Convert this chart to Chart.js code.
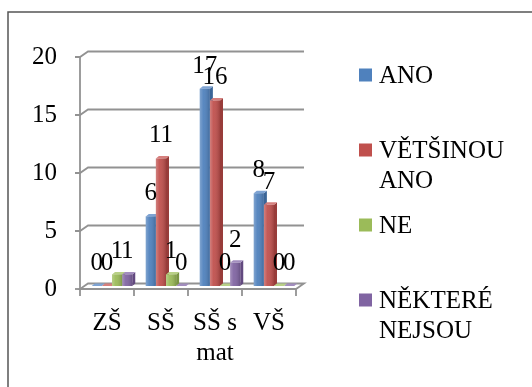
<!DOCTYPE html>
<html>
<head>
<meta charset="utf-8">
<script src="https://cdn.jsdelivr.net/npm/chart.js@4"></script>
<style>
    body { margin: 0; background: #fff; }
    #wrap { width: 532px; height: 387px; }
</style>
</head>
<body>
<div id="wrap"><canvas id="chart" width="532" height="387"></canvas></div>
<script>
// DATA
const categories = ["ZŠ", "SŠ", ["SŠ s", "mat"], "VŠ"];
const seriesNames = ["ANO", "VĚTŠINOU ANO", "NE", "NĚKTERÉ NEJSOU"];
const ano = [0, 6, 17, 8];
const vetsinouAno = [0, 11, 16, 7];
const ne = [1, 1, 0, 0];
const nektereNejsou = [1, 0, 2, 0];
const yTicks = [0, 5, 10, 15, 20];

const colors = ["#4F81BD", "#C0504D", "#9BBB59", "#8064A2"];
const topColors = ["#7EA3D3", "#D67F7D", "#B8D086", "#A28DBE"];
const sideColors = ["#3A6597", "#983C3A", "#7A9443", "#62497F"];

const FONT = "'Liberation Serif', 'Times New Roman', serif";
const font = { family: FONT, size: 25 };

// 3D offsets (front / back wall relative to bar plane)
const FX = -5, FY = 3, BX = 3, BY = -2.5;
const DX = 3, DY = -2.5; // bar depth

// GRID, FLOOR, AXIS, FRAME
const frame3d = {
    id: "frame3d",
    beforeDatasetsDraw(chart) {
        const ctx = chart.ctx;
        const area = chart.chartArea;
        const y = chart.scales.y;
        ctx.save();

        // outer frame
        ctx.strokeStyle = "#555";
        ctx.lineWidth = 1.5;
        ctx.beginPath();
        ctx.moveTo(8, 390);
        ctx.lineTo(8, 12);
        ctx.lineTo(540, 12);
        ctx.stroke();

        ctx.strokeStyle = "#929292";
        ctx.lineWidth = 1.8;

        // floor
        const y0 = y.getPixelForValue(0);
        ctx.beginPath();
        ctx.moveTo(area.left + FX, y0 + FY);
        ctx.lineTo(area.right + FX, y0 + FY);
        ctx.lineTo(area.right + BX, y0 + BY);
        ctx.lineTo(area.left + BX, y0 + BY);
        ctx.closePath();
        ctx.stroke();

        yTicks.forEach(v => {
            const py = y.getPixelForValue(v);
            ctx.beginPath();
            ctx.moveTo(area.left + FX - 5, py + FY);
            ctx.lineTo(area.left + FX, py + FY);
            if (v > 0) {
                ctx.lineTo(area.left + BX, py + BY);
                ctx.lineTo(area.right + BX, py + BY);
            }
            ctx.stroke();
        });

        // front vertical axis
        const yTop = y.getPixelForValue(yTicks[yTicks.length - 1]);
        ctx.beginPath();
        ctx.moveTo(area.left + FX, yTop + FY);
        ctx.lineTo(area.left + FX, y0 + FY);
        ctx.stroke();

        // category tick marks
        const step = (area.right - area.left) / categories.length;
        for (let i = 0; i <= categories.length; i++) {
            const px = area.left + FX + i * step;
            ctx.beginPath();
            ctx.moveTo(px, y0 + FY);
            ctx.lineTo(px, y0 + FY + 7);
            ctx.stroke();
        }

        // bar tops and sides (drawn before fronts so fronts cover them)
        chart.data.datasets.forEach((ds, di) => {
            const meta = chart.getDatasetMeta(di);
            meta.data.forEach(bar => {
                const x0 = bar.x - bar.width / 2;
                const x1 = bar.x + bar.width / 2;
                const top = bar.y;
                const base = bar.base;
                ctx.fillStyle = sideColors[di];
                ctx.beginPath();
                ctx.moveTo(x1, top);
                ctx.lineTo(x1 + DX, top + DY);
                ctx.lineTo(x1 + DX, base + DY);
                ctx.lineTo(x1, base);
                ctx.closePath();
                ctx.fill();
                ctx.fillStyle = topColors[di];
                ctx.beginPath();
                ctx.moveTo(x0, top);
                ctx.lineTo(x1, top);
                ctx.lineTo(x1 + DX, top + DY);
                ctx.lineTo(x0 + DX, top + DY);
                ctx.closePath();
                ctx.fill();
            });
        });

        ctx.restore();
    },
    afterDatasetsDraw(chart) {
        const ctx = chart.ctx;
        ctx.save();
        chart.data.datasets.forEach((ds, di) => {
            const meta = chart.getDatasetMeta(di);
            meta.data.forEach((bar, i) => {
                const x0 = bar.x - bar.width / 2;
                const x1 = bar.x + bar.width / 2;
                if (bar.base - bar.y > 0.5) {
                    const g = ctx.createLinearGradient(x0, 0, x1, 0);
                    g.addColorStop(0, "rgba(255,255,255,0.28)");
                    g.addColorStop(0.35, "rgba(255,255,255,0.06)");
                    g.addColorStop(1, "rgba(0,0,0,0.18)");
                    ctx.fillStyle = g;
                    ctx.fillRect(x0, bar.y, x1 - x0, bar.base - bar.y);
                }
                // value label
                ctx.fillStyle = "#000";
                ctx.font = "25px " + FONT;
                ctx.textAlign = "center";
                ctx.textBaseline = "alphabetic";
                ctx.fillText(String(ds.data[i]), bar.x, bar.y - 16);
            });
        });
        ctx.restore();
    }
};

// LEGEND
const sideLegend = {
    id: "sideLegend",
    afterDraw(chart) {
        const ctx = chart.ctx;
        ctx.save();
        ctx.font = "25px " + FONT;
        ctx.textAlign = "left";
        ctx.textBaseline = "middle";
        chart.data.datasets.forEach((ds, i) => {
            const cy = 75 + i * 75;
            ctx.fillStyle = colors[i];
            ctx.fillRect(359, cy - 6.5, 13, 13);
            ctx.fillStyle = "#000";
            ds.label.split(" ").forEach((line, k) => {
                ctx.fillText(line, 379, cy + 1 + k * 30);
            });
        });
        ctx.restore();
    }
};

const seriesData = [ano, vetsinouAno, ne, nektereNejsou];

new Chart(document.getElementById("chart"), {
    type: "bar",
    data: {
        labels: categories,
        datasets: seriesNames.map((name, i) => ({
            label: name,
            data: seriesData[i],
            backgroundColor: colors[i],
            borderWidth: 0,
            categoryPercentage: 0.75,
            barPercentage: 1
        }))
    },
    options: {
        responsive: false,
        animation: false,
        layout: { padding: { top: 54, right: 231, left: 0, bottom: 0 } },
        plugins: {
            legend: { display: false },
            tooltip: { enabled: false }
        },
        scales: {
            x: {
                grid: { display: false, drawTicks: false },
                border: { display: false },
                ticks: {
                    font, color: "#000", labelOffset: -5, padding: 22,
                    maxRotation: 0, autoSkip: false
                },
                afterFit(scale) { scale.height = 101; }
            },
            y: {
                min: 0,
                max: 20,
                grid: { display: false, drawTicks: false },
                border: { display: false },
                ticks: { font, color: "#000", stepSize: 5, padding: 28, labelOffset: 3 },
                afterFit(scale) { scale.width = 85; }
            }
        }
    },
    plugins: [frame3d, sideLegend]
});
</script>
</body>
</html>
